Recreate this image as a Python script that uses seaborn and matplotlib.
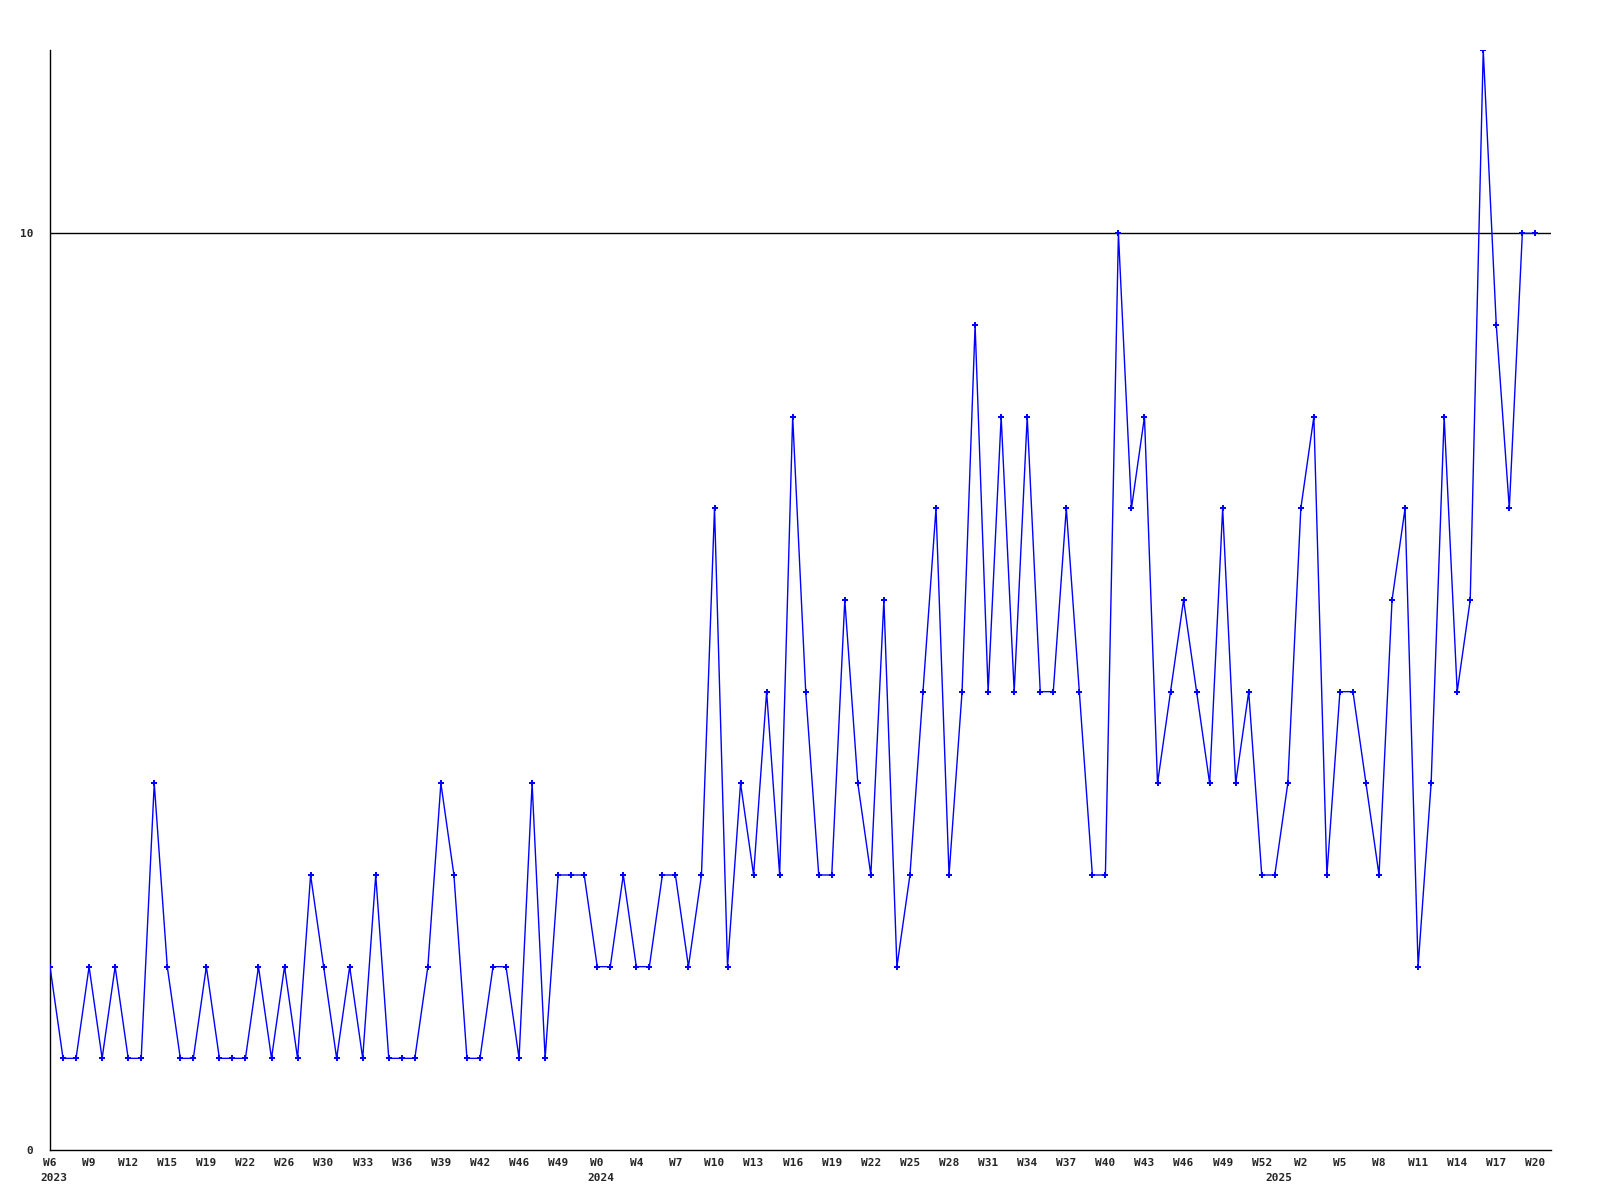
import pandas as pd
import numpy as np
import seaborn as sns
from matplotlib import pyplot as plt
from matplotlib import transforms

# weekly counts (one value per week)
counts = [2, 1, 1, 2, 1, 2, 1, 1, 4, 2,
          1, 1, 2, 1, 1, 1, 2, 1, 2, 1,
          3, 2, 1, 2, 1, 3, 1, 1, 1, 2,
          4, 3, 1, 1, 2, 2, 1, 4, 1, 3,
          3, 3, 2, 2, 3, 2, 2, 3, 3, 2,
          3, 7, 2, 4, 3, 5, 3, 8, 5, 3,
          3, 6, 4, 3, 6, 2, 3, 5, 7, 3,
          5, 9, 5, 8, 5, 8, 5, 5, 7, 5,
          3, 3, 10, 7, 8, 4, 5, 6, 5, 4,
          7, 4, 5, 3, 3, 4, 7, 8, 3, 5,
          5, 4, 3, 6, 7, 2, 4, 8, 5, 6,
          12, 9, 7, 10, 10]

# a week label every third point
week_labels = ['W6', 'W9', 'W12', 'W15', 'W19', 'W22', 'W26', 'W30', 'W33', 'W36',
               'W39', 'W42', 'W46', 'W49', 'W0', 'W4', 'W7', 'W10', 'W13', 'W16',
               'W19', 'W22', 'W25', 'W28', 'W31', 'W34', 'W37', 'W40', 'W43', 'W46',
               'W49', 'W52', 'W2', 'W5', 'W8', 'W11', 'W14', 'W17', 'W20']
label_step = 3

# year names and the point where each year starts
years = ['2023', '2024', '2025']
year_start = [0, 42, 94]

df = pd.DataFrame({'week': np.arange(len(counts)), 'count': counts})

sns.set_style('white')
plt.rcParams['font.family'] = ['DejaVu Sans Mono', 'DejaVu Sans']

fig = plt.figure(figsize=(16, 12), dpi=100)
ax = fig.add_axes([50 / 1600, 50 / 1200, 1501 / 1600, 1100 / 1200])

ax.axhline(10, color='black', lw=1, zorder=1)
sns.lineplot(data=df, x='week', y='count', ax=ax, color='#0000ff', lw=1,
             marker='P', markersize=4, markeredgewidth=0, zorder=3)

ax.set_xlim(0, 115.2)
ax.set_ylim(0, 12)

ax.set_xticks(df['week'][::label_step])
ax.set_xticklabels(week_labels, fontsize=8, fontweight='bold')
ax.set_yticks([0, 10])
ax.set_yticklabels(['0', '10'], fontsize=8, fontweight='bold')
ax.tick_params(axis='x', length=0, pad=5.5)
ax.tick_params(axis='y', length=0, pad=12)

for sp in ['top', 'right']:
    ax.spines[sp].set_visible(False)
for sp in ['left', 'bottom']:
    ax.spines[sp].set_color('black')
    ax.spines[sp].set_linewidth(1)

ax.set_xlabel('')
ax.set_ylabel('')

trans = transforms.blended_transform_factory(ax.transData, ax.transAxes)
for yr, pos in zip(years, year_start):
    ax.text(pos + 0.3, -0.021, yr, transform=trans, ha='center', va='top',
            fontsize=8, fontweight='bold')

fig.savefig('out.png', dpi=100)
